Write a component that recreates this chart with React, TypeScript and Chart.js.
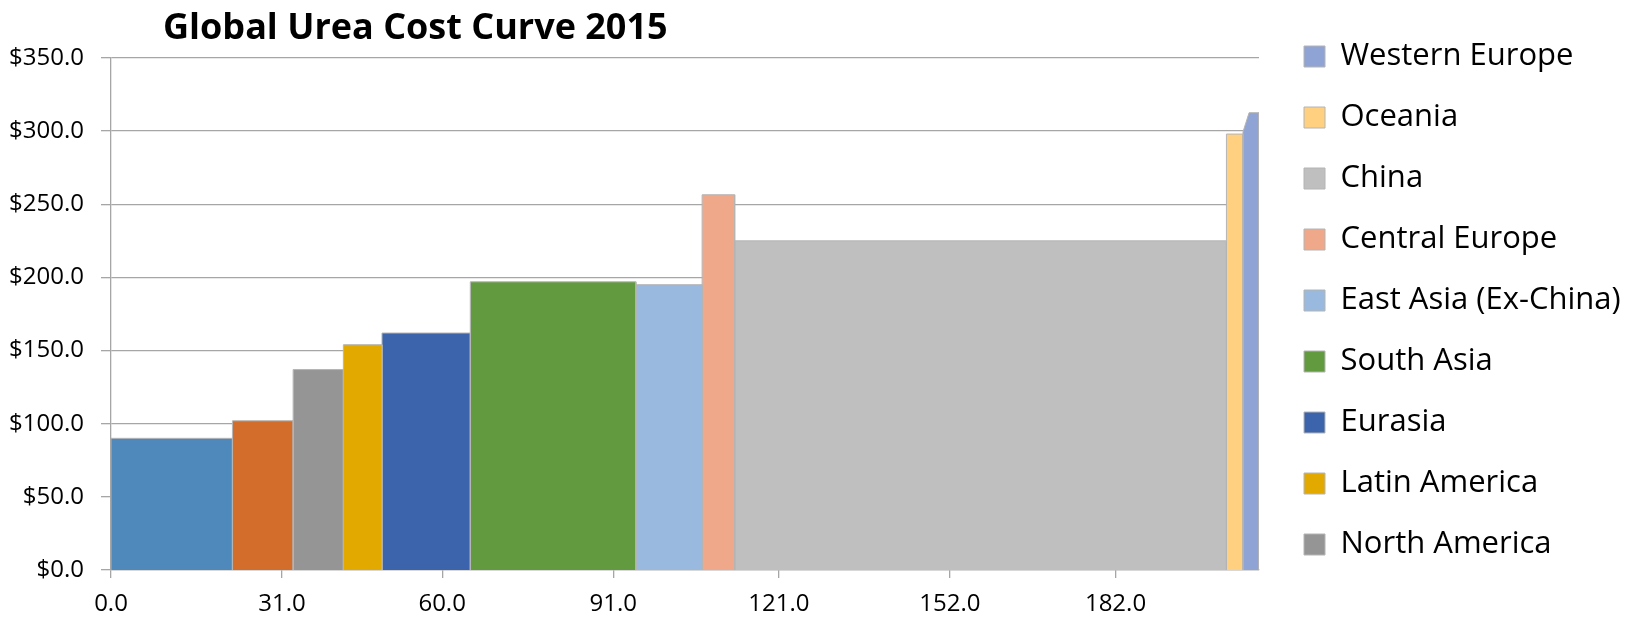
import React, { useEffect, useRef } from 'react';
import { Chart, registerables } from 'chart.js';

Chart.register(...registerables);

// ---------- data ----------
const chartTitle = 'Global Urea Cost Curve 2015';

const regions = [
  'Middle East',
  'Africa',
  'North America',
  'Latin America',
  'Eurasia',
  'South Asia',
  'East Asia (Ex-China)',
  'Central Europe',
  'China',
  'Oceania',
  'Western Europe',
];

// hidden from the (cut-off) legend of the original
const unlistedRegions = ['Middle East', 'Africa'];

const regionColors = [
  '#4F89BC',
  '#D36D2B',
  '#959595',
  '#E2AA00',
  '#3C64AC',
  '#629A3F',
  '#99B9DF',
  '#F0A88A',
  '#BFBFBF',
  '#FFD07F',
  '#8FA4D4',
];

// cumulative capacity (x) at each point of a region's step
const capacityPoints = [
  [0, 22.0],
  [22.0, 33.0],
  [33.0, 42.1],
  [42.1, 49.1],
  [49.1, 65.1],
  [65.1, 95.1],
  [95.1, 107.1],
  [107.1, 113.0],
  [113.0, 202.1],
  [202.1, 205.1],
  [205.1, 206.2, 208.0],
];

// cash cost ($/t) at each of those points
const costPoints = [
  [90, 90],
  [102, 102],
  [137, 137],
  [154, 154],
  [162, 162],
  [197, 197],
  [195, 195],
  [256.5, 256.5],
  [225, 225],
  [298, 298],
  [299.5, 312.6, 312.6],
];

const xTickValues = [0, 31, 60, 91, 121, 152, 182];
const xMax = 208;
const yMax = 350;
const yStep = 50;

// ---------- styling ----------
const FONT = "'Open Sans', sans-serif";
const GRID = '#a6a6a6';
const LEGEND_WIDTH = 390;

const layoutPlugin = {
  id: 'layoutTweaks',
  beforeUpdate(chart: any) {
    const lg = chart.legend;
    if (lg && !lg.__wrapped) {
      lg.__wrapped = true;
      const orig = lg.fit.bind(lg);
      lg.fit = function () {
        const mh = this.maxHeight;
        this.maxHeight = 10000;
        orig();
        this.maxHeight = mh;
        this.width = LEGEND_WIDTH;
        this.height = mh;
      };
    }
  },
  afterLayout(chart: any) {
    const lg = chart.legend;
    if (!lg) return;
    const w = lg.width;
    lg.left = chart.chartArea.right + 15;
    lg.right = lg.left + w;
    lg.top = 11;
    lg.bottom = chart.height + 200;
    lg.height = lg.bottom - lg.top;
  },
};

const titlePlugin = {
  id: 'plainTitle',
  afterDraw(chart: any) {
    const { ctx, chartArea } = chart;
    ctx.save();
    ctx.font = `bold 36px ${FONT}`;
    ctx.fillStyle = '#000000';
    ctx.textAlign = 'left';
    ctx.textBaseline = 'alphabetic';
    ctx.fillText(chartTitle, chartArea.left + 52, 38.5);
    ctx.restore();
  },
};

export default function App() {
  const canvasRef = useRef<HTMLCanvasElement>(null);

  useEffect(() => {
    document.body.style.margin = '0';
    let chart: Chart | null = null;
    let cancelled = false;

    const build = () => {
      if (cancelled || !canvasRef.current) return;
      const datasets = regions.map((name, i) => {
        const xs = capacityPoints[i];
        const ys = costPoints[i];
        const pts = [
          { x: xs[0], y: 0 },
          ...xs.map((x, k) => ({ x, y: ys[k] })),
          { x: xs[xs.length - 1], y: 0 },
        ];
        return {
          label: name,
          data: pts,
          backgroundColor: regionColors[i],
          borderColor: '#b4b4b4',
          borderWidth: 1,
          fill: 'origin',
          pointRadius: 0,
          pointHoverRadius: 0,
          tension: 0,
        };
      });

      chart = new Chart(canvasRef.current, {
        type: 'line',
        data: { datasets } as any,
        options: {
          animation: false,
          responsive: false,
          maintainAspectRatio: false,
          events: [],
          layout: { padding: { top: 58, left: 0, right: 0, bottom: 0 } },
          plugins: {
            title: { display: false },
            tooltip: { enabled: false },
            legend: {
              display: true,
              position: 'right',
              align: 'start',
              reverse: true,
              labels: {
                boxWidth: 21,
                boxHeight: 21,
                padding: 30,
                color: '#000000',
                font: { family: FONT, size: 31 },
                filter: (item: any) => !unlistedRegions.includes(item.text),
              },
            },
          },
          scales: {
            x: {
              type: 'linear',
              min: 0,
              max: xMax,
              afterBuildTicks: (axis: any) => {
                axis.ticks = xTickValues.map((v) => ({ value: v }));
              },
              afterFit: (axis: any) => {
                axis.height = 47;
              },
              ticks: {
                autoSkip: false,
                maxRotation: 0,
                padding: 12,
                color: '#000000',
                font: { family: FONT, size: 24 },
                callback: (v: any) => Number(v).toFixed(1),
              },
              grid: {
                display: true,
                drawOnChartArea: false,
                drawTicks: true,
                tickLength: 8,
                color: GRID,
                lineWidth: 1.3,
              },
              border: { display: true, color: GRID, width: 1.3 },
            },
            y: {
              type: 'linear',
              min: 0,
              max: yMax,
              afterFit: (axis: any) => {
                axis.width = 111;
              },
              ticks: {
                stepSize: yStep,
                padding: 17,
                color: '#000000',
                font: { family: FONT, size: 24 },
                callback: (v: any) => '$' + Number(v).toFixed(1),
              },
              grid: {
                display: true,
                drawTicks: true,
                tickLength: 10,
                color: GRID,
                lineWidth: 1.3,
              },
              border: { display: true, color: GRID, width: 1.3 },
            },
          },
        } as any,
        plugins: [layoutPlugin, titlePlugin],
      });
    };

    const fonts = (document as any).fonts;
    if (fonts && fonts.load) {
      Promise.all([
        fonts.load(`31px 'Open Sans'`),
        fonts.load(`bold 36px 'Open Sans'`),
      ])
        .catch(() => {})
        .then(build);
    } else {
      build();
    }

    return () => {
      cancelled = true;
      if (chart) chart.destroy();
    };
  }, []);

  return (
    <div style={{ width: 1649, height: 617 }}>
      <canvas
        ref={canvasRef}
        width={1649}
        height={617}
        style={{ display: 'block', width: 1649, height: 617 }}
      />
    </div>
  );
}
